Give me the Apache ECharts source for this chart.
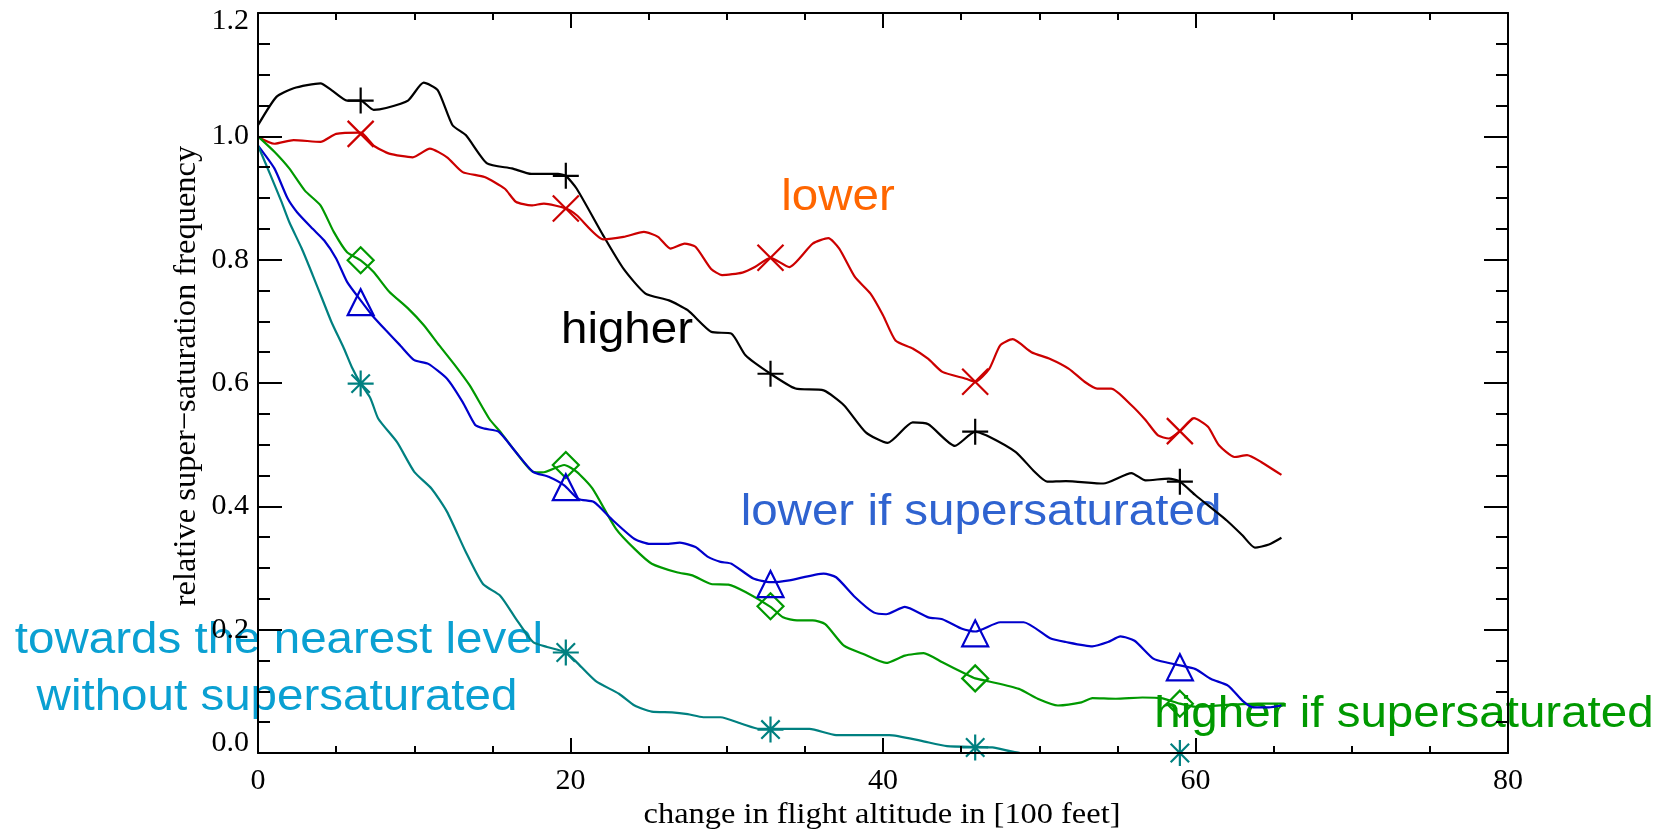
<!DOCTYPE html>
<html><head><meta charset="utf-8">
<script src="https://cdn.jsdelivr.net/npm/echarts@6/dist/echarts.min.js"></script>
<style>html,body{margin:0;padding:0;background:#fff}#chart{width:1667px;height:833px}</style>
</head><body><div id="chart"></div>
<script>
// ---- data (x = change in flight altitude [100 ft], y = relative frequency) ----
const higherData = [[0,1.018],[1.18,1.064],[2.28,1.078],[4.0,1.086],[4.7,1.075],[5.7,1.058],[6.57,1.058],[7.4,1.043],[8.2,1.046],[9.6,1.058],[10.6,1.087],[11.5,1.075],[12.45,1.018],[13.3,1.002],[14.66,0.956],[16.25,0.948],[17.5,0.939],[19.2,0.939],[19.7,0.936],[20.4,0.915],[22.1,0.839],[23.4,0.785],[24.8,0.745],[26.3,0.734],[27.5,0.718],[29.0,0.683],[30.3,0.68],[31.2,0.645],[32.8,0.615],[34.4,0.591],[36.2,0.588],[37.5,0.564],[38.9,0.52],[40.3,0.503],[41.9,0.536],[42.9,0.533],[44.6,0.498],[45.9,0.521],[46.8,0.513],[48.5,0.488],[49.7,0.456],[50.5,0.44],[51.7,0.441],[54.1,0.437],[55.9,0.454],[56.8,0.442],[58.3,0.445],[59.0,0.44],[60.0,0.418],[62.0,0.377],[63.0,0.353],[63.8,0.333],[64.7,0.338],[65.5,0.349]];
const lowerData = [[0,0.999],[1.05,0.988],[2.28,0.994],[4.0,0.991],[5.0,1.004],[6.57,1.006],[7.4,0.985],[8.4,0.972],[9.9,0.966],[11.0,0.98],[12.1,0.966],[13.1,0.942],[14.5,0.934],[15.8,0.915],[16.5,0.894],[17.5,0.888],[18.3,0.891],[19.7,0.883],[20.4,0.872],[22.1,0.833],[23.4,0.837],[24.7,0.845],[25.6,0.837],[26.4,0.818],[27.3,0.826],[28.0,0.821],[29.0,0.785],[29.7,0.775],[31.0,0.779],[31.8,0.788],[32.8,0.803],[34.0,0.788],[35.5,0.826],[36.5,0.835],[37.2,0.818],[38.2,0.772],[39.2,0.745],[40.0,0.71],[40.8,0.669],[41.9,0.656],[42.9,0.639],[43.8,0.618],[45.3,0.607],[45.9,0.602],[46.8,0.623],[47.5,0.661],[48.3,0.671],[49.5,0.65],[50.7,0.639],[51.9,0.623],[52.9,0.602],[53.7,0.591],[54.6,0.591],[55.9,0.564],[56.8,0.54],[57.6,0.515],[58.3,0.51],[59.0,0.522],[59.9,0.543],[60.8,0.529],[61.5,0.499],[62.5,0.48],[63.3,0.483],[64.2,0.472],[65.5,0.451]];
const higherIfSatData = [[0,1.0],[1.05,0.975],[2.0,0.948],[3.0,0.912],[4.0,0.888],[4.85,0.845],[5.7,0.812],[6.57,0.799],[7.4,0.78],[8.4,0.748],[9.6,0.721],[10.6,0.694],[11.6,0.661],[12.6,0.629],[13.55,0.596],[14.8,0.542],[15.5,0.521],[16.5,0.488],[17.6,0.456],[18.2,0.455],[19.6,0.467],[20.4,0.456],[21.4,0.429],[22.9,0.364],[24.1,0.331],[25.2,0.307],[26.8,0.293],[27.8,0.288],[29.0,0.274],[30.1,0.273],[31.2,0.261],[32.8,0.237],[33.6,0.22],[34.5,0.215],[35.5,0.215],[36.3,0.209],[37.5,0.174],[38.7,0.161],[40.2,0.146],[41.4,0.158],[42.6,0.162],[43.8,0.147],[45.3,0.128],[45.9,0.121],[46.8,0.116],[48.7,0.104],[49.9,0.088],[51.2,0.077],[52.7,0.082],[53.4,0.089],[54.9,0.088],[56.6,0.09],[57.8,0.089],[59.0,0.08],[60.0,0.075],[62.0,0.078],[64.0,0.08],[65.7,0.08]];
const lowerIfSatData = [[0,0.985],[1.05,0.948],[1.9,0.899],[2.5,0.877],[3.5,0.85],[4.24,0.831],[5.0,0.802],[5.7,0.764],[6.57,0.734],[7.3,0.71],[8.2,0.685],[9.1,0.661],[10.0,0.637],[10.9,0.631],[12.1,0.607],[13.1,0.569],[13.9,0.532],[14.5,0.526],[15.4,0.521],[16.5,0.488],[17.6,0.456],[18.6,0.448],[19.6,0.434],[20.5,0.412],[21.5,0.407],[22.6,0.38],[24.1,0.347],[25.1,0.339],[26.1,0.339],[27.0,0.341],[28.0,0.334],[28.8,0.318],[29.6,0.31],[30.3,0.307],[31.7,0.283],[32.8,0.277],[34.0,0.28],[36.2,0.291],[37.0,0.285],[38.2,0.253],[39.4,0.228],[40.2,0.225],[41.4,0.237],[42.9,0.22],[43.8,0.217],[45.1,0.201],[45.9,0.197],[47.5,0.212],[49.0,0.212],[50.7,0.186],[51.7,0.18],[53.4,0.173],[54.4,0.18],[55.2,0.189],[56.1,0.182],[57.3,0.153],[58.3,0.146],[59.0,0.142],[60.0,0.136],[61.0,0.12],[62.1,0.109],[63.0,0.085],[63.7,0.074],[64.7,0.074],[65.5,0.077]];
const nearestData = [[0,0.985],[0.8,0.937],[1.5,0.894],[2.0,0.861],[2.8,0.818],[3.5,0.775],[4.1,0.737],[4.7,0.699],[5.5,0.656],[6.0,0.626],[6.57,0.599],[7.2,0.575],[7.7,0.542],[8.9,0.504],[10.0,0.456],[11.1,0.429],[12.1,0.391],[13.3,0.326],[14.4,0.274],[15.5,0.255],[16.5,0.218],[17.6,0.18],[18.5,0.172],[19.7,0.163],[20.4,0.147],[21.6,0.117],[23.1,0.096],[24.1,0.077],[25.2,0.067],[26.5,0.066],[27.5,0.063],[28.5,0.058],[29.6,0.058],[31.0,0.047],[32.1,0.039],[35.3,0.039],[37.0,0.029],[40.4,0.029],[42.4,0.02],[44.1,0.011],[47.0,0.009],[48.8,0.0],[65.7,0.0]];

const markerX = [6.57, 19.7, 32.8, 45.9, 59.0];
const higherMarkY = [1.058, 0.936, 0.615, 0.521, 0.44];
const lowerMarkY = [1.004, 0.883, 0.803, 0.602, 0.522];
const higherIfSatMarkY = [0.799, 0.467, 0.238, 0.121, 0.08];
const lowerIfSatMarkY = [0.731, 0.431, 0.274, 0.194, 0.139];
const nearestMarkY = [0.599, 0.163, 0.038, 0.009, 0.0];

const xTickValues = [0, 20, 40, 60, 80];
const yTickValues = [0.0, 0.2, 0.4, 0.6, 0.8, 1.0, 1.2];

// ---- chart ----
const SERIF = '"Liberation Serif","Times New Roman",serif';
const SANS = '"Liberation Sans",Arial,Helvetica,sans-serif';
const chart = echarts.init(document.getElementById('chart'), null, {renderer: 'canvas'});

const PLUS = 'path://M5,0L5,10M0,5L10,5';
const CROSS = 'path://M0,0L10,10M0,10L10,0';
const STAR = 'path://M5,0L5,10M0,5L10,5M1.46,1.46L8.54,8.54M1.46,8.54L8.54,1.46';
const DIAMOND = 'path://M5,0L10,5L5,10L0,5Z';
const TRI = 'path://M5,0L10,10L0,10Z';

function zip(xs, ys) { return xs.map((x, i) => [x, ys[i]]); }
function lineSeries(data, color) {
  return {type: 'line', data: data, showSymbol: false, symbol: 'none', z: 2,
    smooth: 0.2,
    lineStyle: {color: color, width: 2.2}, itemStyle: {color: color}, animation: false, silent: true};
}
function markSeries(ys, color, sym) {
  return {type: 'scatter', data: zip(markerX, ys), symbol: sym, symbolSize: 26, z: 2,
    itemStyle: {color: 'rgba(0,0,0,0)', borderColor: color, borderWidth: 2.2, opacity: 1},
    animation: false, silent: true};
}

const tickStyle = {color: '#000', width: 2};
function xAxisDef(pos, showLabel) {
  return {type: 'value', position: pos, min: xTickValues[0], max: xTickValues[xTickValues.length - 1],
    interval: xTickValues[1] - xTickValues[0], z: 3,
    axisLine: {show: true, onZero: false, lineStyle: {color: '#000', width: 2}},
    axisTick: {show: true, inside: true, length: 15, lineStyle: tickStyle},
    minorTick: {show: true, splitNumber: 4, length: 7, lineStyle: tickStyle},
    splitLine: {show: false}, minorSplitLine: {show: false},
    axisLabel: {show: showLabel, margin: 13, color: '#000', fontFamily: SERIF, fontSize: 30}};
}
function yLabelFmt(v) {
  const s = v.toFixed(1);
  if (Math.abs(v - yTickValues[0]) < 1e-9) return '{lo|' + s + '}';
  if (Math.abs(v - yTickValues[yTickValues.length - 1]) < 1e-9) return '{hi|' + s + '}';
  return '{n|' + s + '}';
}
const yRichBase = {color: '#000', fontFamily: SERIF, fontSize: 30};
function yAxisDef(pos, showLabel) {
  return {type: 'value', position: pos, min: yTickValues[0], max: yTickValues[yTickValues.length - 1],
    interval: 0.2, z: 3,
    axisLine: {show: true, onZero: false, lineStyle: {color: '#000', width: 2}},
    axisTick: {show: true, inside: true, length: 24, lineStyle: tickStyle},
    minorTick: {show: true, splitNumber: 4, length: 12, lineStyle: tickStyle},
    splitLine: {show: false}, minorSplitLine: {show: false},
    axisLabel: {show: showLabel, margin: 9, formatter: yLabelFmt,
      rich: {
        n: Object.assign({}, yRichBase),
        lo: Object.assign({padding: [0, 0, 20, 0]}, yRichBase),
        hi: Object.assign({padding: [16, 0, 0, 0]}, yRichBase)
      }}};
}

function label(text, x, y, color, size) {
  return {type: 'text', x: x, y: y, scaleX: 1.08, z: 0, silent: true,
    style: {text: text, fill: color, fontFamily: SANS, fontSize: size || 44,
      align: 'center', verticalAlign: 'middle'}};
}

chart.setOption({
  backgroundColor: '#ffffff',
  animation: false,
  grid: {left: 258, top: 13, right: 159, bottom: 80, containLabel: false},
  xAxis: [xAxisDef('bottom', true), xAxisDef('top', false)],
  yAxis: [yAxisDef('left', true), yAxisDef('right', false)],
  series: [
    lineSeries(higherData, '#000000'),
    lineSeries(lowerData, '#cc0000'),
    lineSeries(higherIfSatData, '#009900'),
    lineSeries(lowerIfSatData, '#0000cc'),
    lineSeries(nearestData, '#008080'),
    markSeries(higherMarkY, '#000000', PLUS),
    markSeries(lowerMarkY, '#cc0000', CROSS),
    markSeries(higherIfSatMarkY, '#009900', DIAMOND),
    markSeries(lowerIfSatMarkY, '#0000cc', TRI),
    markSeries(nearestMarkY, '#008080', STAR)
  ],
  graphic: [
    label('lower', 838, 198, '#ff6600'),
    label('higher', 627, 331, '#000000'),
    label('lower if supersaturated', 981, 513, '#2f63d0'),
    label('towards the nearest level', 279, 641, '#0aa0d2'),
    label('without supersaturated', 277, 698, '#0aa0d2'),
    label('higher if supersaturated', 1404, 715, '#009900'),
    {type: 'text', x: 882, y: 815, scaleX: 1.08, z: 0, silent: true,
      style: {text: 'change in flight altitude in [100 feet]', fill: '#000', fontFamily: SERIF, fontSize: 30,
        align: 'center', verticalAlign: 'middle'}},
    {type: 'text', x: 186, y: 376, rotation: Math.PI / 2, z: 0, silent: true,
      style: {text: 'relative super\u2212saturation frequency', fill: '#000', fontFamily: SERIF, fontSize: 32.5,
        align: 'center', verticalAlign: 'middle'}}
  ]
});
</script>
</body></html>
